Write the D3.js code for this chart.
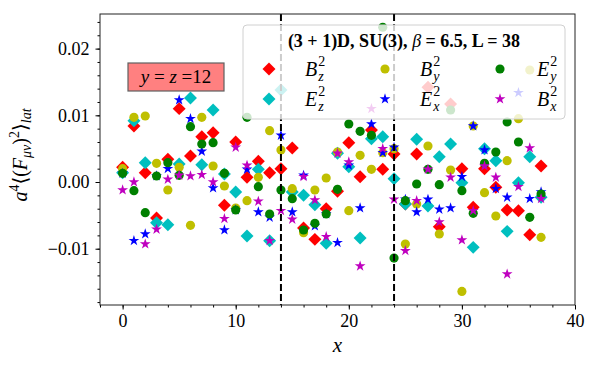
<!DOCTYPE html>
<html>
<head>
<meta charset="utf-8">
<script src="https://cdn.jsdelivr.net/npm/d3@7"></script>
<style>
  body { margin: 0; background: #fff; }
  text { font-family: "Liberation Serif", "DejaVu Serif", serif; }
</style>
</head>
<body>
<div id="chart"></div>
<script>
// positions along x (lattice sites)
var xs = d3.range(0, 38)

var Bz2 = [0.0022, 0.0084, 0.0014, -0.0054, 0.0034, 0.0110, 0.0039, 0.0068, 0.0074, -0.0035,
           0.0060, 0.0007, 0.0031, 0.0014, 0.0020, 0.0051, -0.0069, -0.0086, -0.0040, -0.0014,
           0.0059, 0.0008, 0.0078, 0.0019, 0.0042, -0.0033, 0.0042, 0.0142, -0.0067, 0.0117,
           0.0020, -0.0038, 0.0020, -0.0008, -0.0042, -0.0043, -0.0079, 0.0024]
var Ez2 = [0.0014, 0.0092, 0.0029, -0.0061, -0.0064, 0.0027, 0.0126, 0.0026, 0.0108, 0.0012,
           -0.0015, -0.0081, 0.0019, -0.0088, 0.0138, -0.0015, -0.0020, -0.0034, -0.0092, 0.0043,
           0.0023, -0.0084, 0.0065, 0.0068, 0.0005, -0.0033, 0.0064, -0.0036, 0.0038, 0.0057,
           -0.0001, -0.0098, 0.0050, 0.0032, -0.0074, -0.0001, 0.0038, -0.0023]
var By2 = [0.0020, 0.0097, 0.0099, 0.0028, -0.0012, 0.0022, -0.0065, 0.0097, 0.0024, -0.0006,
           -0.0039, -0.0028, 0.0007, 0.0077, 0.0048, -0.0010, -0.0076, -0.0012, 0.0006, 0.0045,
           -0.0043, 0.0040, 0.0019, 0.0044, 0.0050, -0.0093, -0.0033, 0.0054, -0.0078, 0.0018,
           -0.0164, 0.0084, -0.0016, -0.0051, 0.0032, 0.0095, 0.0168, -0.0083]
var Ex2 = [0.0013, -0.0088, -0.0078, 0.0009, 0.0020, 0.0123, 0.0095, 0.0046, -0.0009, -0.0072,
           -0.0042, 0.0019, -0.0045, -0.0053, 0.0070, -0.0045, 0.0010, -0.0066, -0.0048, -0.0091,
           0.0025, -0.0039, 0.0087, 0.0044, 0.0052, -0.0026, -0.0045, -0.0026, -0.0041, -0.0039,
           0.0008, 0.0084, 0.0048, -0.0010, -0.0023, 0.0134, -0.0025, -0.0015]
var Ey2 = [0.0013, -0.0013, -0.0046, 0.0009, 0.0029, 0.0010, 0.0083, 0.0057, 0.0059, 0.0013,
           -0.0042, 0.0097, -0.0007, -0.0048, -0.0012, -0.0025, -0.0072, -0.0062, -0.0048, -0.0011,
           0.0087, 0.0076, 0.0070, 0.0232, -0.0114, -0.0028, -0.0003, 0.0019, -0.0004, 0.0108,
           -0.0013, -0.0047, 0.0028, 0.0045, 0.0090, 0.0060, -0.0053, -0.0018]
var Bx2 = [-0.0012, 0.0000, -0.0093, -0.0071, 0.0004, 0.0010, 0.0009, 0.0011, 0.0000, -0.0055,
           0.0052, 0.0025, -0.0029, -0.0088, -0.0043, -0.0056, 0.0008, -0.0027, -0.0082, 0.0043,
           0.0030, -0.0126, 0.0110, 0.0050, -0.0026, -0.0103, -0.0028, 0.0019, -0.0060, 0.0007,
           -0.0087, -0.0043, 0.0024, 0.0007, -0.0138, -0.0007, 0.0051, -0.0025]

var regionLines = [14, 24]
var xTicks = [0, 10, 20, 30, 40]
var yTicks = [-0.01, 0.00, 0.01, 0.02]

// plot order = legend order
var series = [
  {vals: Bz2, name: "B", sub: "z", color: "#ff0000", shape: "diamond"},
  {vals: Ez2, name: "E", sub: "z", color: "#00bfbf", shape: "diamond"},
  {vals: By2, name: "B", sub: "y", color: "#bfbf00", shape: "circle"},
  {vals: Ex2, name: "E", sub: "x", color: "#0000ff", shape: "star"},
  {vals: Ey2, name: "E", sub: "y", color: "#008000", shape: "circle"},
  {vals: Bx2, name: "B", sub: "x", color: "#bf00bf", shape: "star"}
]

var W = 600, H = 370
var margin = {top: 14, right: 25, bottom: 65, left: 100},
    width = W - margin.left - margin.right,
    height = H - margin.top - margin.bottom

var svg = d3.select("#chart").append("svg")
    .attr("width", W)
    .attr("height", H)

var g = svg.append("g")
    .attr("transform", "translate(" + margin.left + "," + margin.top + ")")

var xScale = d3.scaleLinear().domain([-2, 40]).range([0, width])
var yScale = d3.scaleLinear().domain([-0.01844, 0.02519]).range([height, 0])

function markerPath(shape) {
  if (shape == "diamond") return d3.symbol().type(d3.symbolSquare).size(84)()
  if (shape == "circle") return d3.symbol().type(d3.symbolCircle).size(66)()
  return d3.symbol().type(d3.symbolStar).size(36)()
}

var plot = g.append("g")
series.forEach(function(s) {
  plot.append("g").selectAll("path")
    .data(xs)
    .enter().append("path")
    .attr("d", markerPath(s.shape))
    .attr("transform", function(d) {
      var t = "translate(" + xScale(d) + "," + yScale(s.vals[d]) + ")"
      return s.shape == "diamond" ? t + " rotate(45)" : t
    })
    .attr("fill", s.color)
})

// vertical dashed lines
g.selectAll(".vline")
  .data(regionLines)
  .enter().append("line")
  .attr("x1", function(d) { return xScale(d) })
  .attr("x2", function(d) { return xScale(d) })
  .attr("y1", 0)
  .attr("y2", height)
  .attr("stroke", "black")
  .attr("stroke-width", 2)
  .attr("stroke-dasharray", "7,3")

// axes
var xAxis = d3.axisBottom(xScale).tickValues(xTicks).tickSize(4.5).tickPadding(5).tickFormat(d3.format("d"))
var xMinor = d3.axisBottom(xScale).tickValues(d3.range(-2, 41, 2)).tickSize(2.5).tickFormat("")
var yAxis = d3.axisLeft(yScale).tickValues(yTicks).tickSize(4.5).tickPadding(6).tickFormat(d3.format(".2f"))
var yMinor = d3.axisLeft(yScale).tickValues(d3.range(-18, 25, 2).map(function(v) { return v / 1000 })).tickSize(2.5).tickFormat("")

g.append("g").attr("transform", "translate(0," + height + ")").call(xMinor)
g.append("g").attr("transform", "translate(0," + height + ")").call(xAxis)
g.append("g").call(yMinor)
g.append("g").call(yAxis)
g.selectAll(".domain").remove()
g.selectAll(".tick text").attr("font-size", 18).attr("font-family", "Liberation Serif")

g.append("rect")
  .attr("width", width).attr("height", height)
  .attr("fill", "none").attr("stroke", "#222").attr("stroke-width", 1)

// axis labels
svg.append("text")
  .attr("x", margin.left + xScale(19))
  .attr("y", 352)
  .attr("text-anchor", "middle")
  .attr("font-style", "italic")
  .attr("font-size", 21)
  .text("x")

var yl = svg.append("text")
  .attr("transform", "translate(27," + 155 + ") rotate(-90)")
  .attr("text-anchor", "middle")
  .attr("font-size", 20)
yl.append("tspan").attr("font-style", "italic").text("a")
yl.append("tspan").attr("font-size", 14).attr("dy", -8).text("4")
yl.append("tspan").attr("dy", 8).text("\u27E8(")
yl.append("tspan").attr("font-style", "italic").text("F")
yl.append("tspan").attr("font-size", 14).attr("font-style", "italic").attr("dy", 4).text("\u03BC\u03BD")
yl.append("tspan").attr("dy", -4).text(")")
yl.append("tspan").attr("font-size", 14).attr("dy", -8).text("2")
yl.append("tspan").attr("dy", 8).text("\u27E9")
yl.append("tspan").attr("font-size", 14).attr("font-style", "italic").attr("dy", 4).text("lat")

// legend
var leg = svg.append("g")
leg.append("rect")
  .attr("x", 243).attr("y", 25).attr("width", 322).attr("height", 94)
  .attr("rx", 4)
  .attr("fill", "white").attr("fill-opacity", 0.8)
  .attr("stroke", "#d0d0d0").attr("stroke-width", 1)

var title = leg.append("text")
  .attr("x", 404).attr("y", 47)
  .attr("text-anchor", "middle")
  .attr("font-size", 18)
  .attr("font-weight", "bold")
title.append("tspan").text("(3 + 1)D, SU(3), ")
title.append("tspan").attr("font-weight", "normal").attr("font-style", "italic").text("\u03B2")
title.append("tspan").text(" = 6.5, L = 38")

var colMarker = [269, 385, 500], colLabel = [305, 420, 537], rowY = [69, 99]
series.forEach(function(s, i) {
  var c = Math.floor(i / 2), r = i % 2
  var t = "translate(" + colMarker[c] + "," + rowY[r] + ")"
  leg.append("path")
    .attr("d", markerPath(s.shape))
    .attr("transform", s.shape == "diamond" ? t + " rotate(45)" : t)
    .attr("fill", s.color)
  var lab = leg.append("text")
    .attr("x", colLabel[c]).attr("y", rowY[r] + 7)
    .attr("font-size", 20).attr("font-style", "italic")
    .text(s.name)
  var wl = lab.node().getComputedTextLength()
  leg.append("text")
    .attr("x", colLabel[c] + wl + 1).attr("y", rowY[r] - 3)
    .attr("font-size", 14).text("2")
  leg.append("text")
    .attr("x", colLabel[c] + wl + 1).attr("y", rowY[r] + 12)
    .attr("font-size", 14).attr("font-style", "italic").text(s.sub)
})

// annotation box
var ann = svg.append("g")
ann.append("rect")
  .attr("x", 128).attr("y", 63).attr("width", 96).attr("height", 28)
  .attr("fill", "#ff8080")
  .attr("stroke", "#606060").attr("stroke-width", 1.2)
var at = ann.append("text")
  .attr("x", 176).attr("y", 83)
  .attr("text-anchor", "middle")
  .attr("font-size", 19)
at.append("tspan").attr("font-style", "italic").text("y")
at.append("tspan").text(" = ")
at.append("tspan").attr("font-style", "italic").text("z")
at.append("tspan").text(" =12")
</script>
</body>
</html>
